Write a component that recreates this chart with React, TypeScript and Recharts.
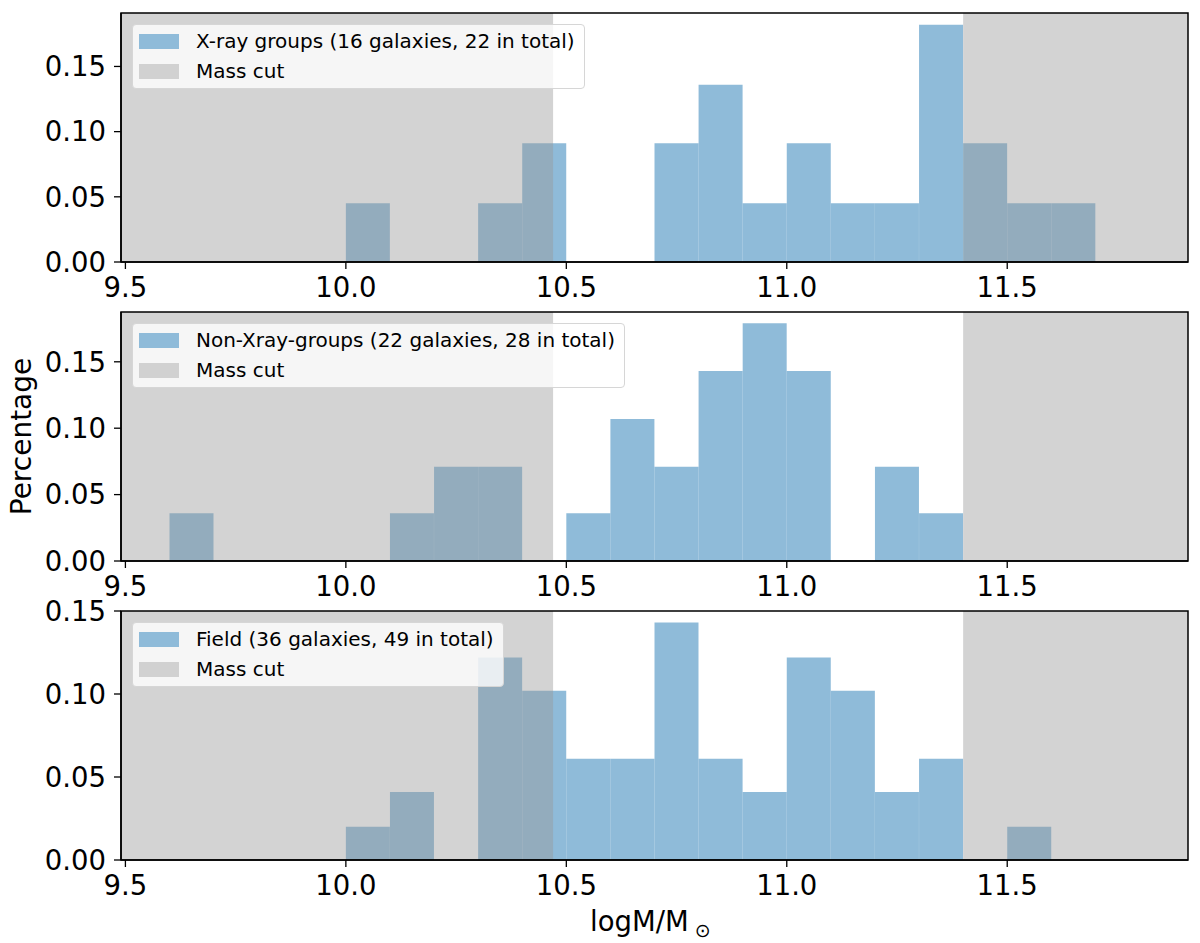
import React from 'react';
import { ComposedChart, Bar, XAxis, YAxis, ReferenceArea } from 'recharts';

// bin centres (bin width 0.1 in logM)
const binCenters = [9.65, 9.75, 9.85, 9.95, 10.05, 10.15, 10.25, 10.35, 10.45, 10.55, 10.65, 10.75, 10.85, 10.95, 11.05, 11.15, 11.25, 11.35, 11.45, 11.55, 11.65];

const xrayValues = [0, 0, 0, 0, 0.045, 0, 0, 0.045, 0.091, 0, 0, 0.091, 0.136, 0.045, 0.091, 0.045, 0.045, 0.182, 0.091, 0.045, 0.045];
const nonXrayValues = [0.036, 0, 0, 0, 0, 0.036, 0.071, 0.071, 0, 0.036, 0.107, 0.071, 0.143, 0.179, 0.143, 0, 0.071, 0.036, 0, 0, 0];
const fieldValues = [0, 0, 0, 0, 0.02, 0.041, 0, 0.122, 0.102, 0.061, 0.061, 0.143, 0.061, 0.041, 0.122, 0.102, 0.041, 0.061, 0, 0.02, 0];

const seriesLabels = [
  'X-ray groups (16 galaxies, 22 in total)',
  'Non-Xray-groups (22 galaxies, 28 in total)',
  'Field (36 galaxies, 49 in total)',
];
const massCutLabel = 'Mass cut';

const yMaxes = [0.191, 0.1875, 0.15];
const yTicks = [0, 0.05, 0.1, 0.15];
const xTicks = [9.5, 10.0, 10.5, 11.0, 11.5];
const xDomain = [9.49, 11.91];
const massCutLow = 10.47;
const massCutHigh = 11.4;

const FONT = 'DejaVu Sans, Verdana, sans-serif';
const PLOT_TOPS = [13, 312, 611];
const PLOT_H = 249;
const MT = 16;
const XAXIS_H = 50;

const tickStyle = { fill: '#000', fontSize: 27.5, fontFamily: FONT };

function Legend({ top, label }: { top: number; label: string }) {
  const row: React.CSSProperties = { display: 'flex', alignItems: 'center', height: 30, whiteSpace: 'nowrap' };
  const patch: React.CSSProperties = { width: 40, height: 15, marginRight: 17, flex: 'none' };
  return (
    <div
      style={{
        position: 'absolute',
        left: 132,
        top,
        padding: '1px 9px 2px 6px',
        border: '1px solid #d6d6d6',
        borderRadius: 4,
        background: 'rgba(255,255,255,0.8)',
        fontFamily: FONT,
        fontSize: 20,
        color: '#000',
        lineHeight: '30px',
      }}
    >
      <div style={row}>
        <div style={{ ...patch, background: '#8fbbd9' }} />
        <span>{label}</span>
      </div>
      <div style={row}>
        <div style={{ ...patch, background: '#d1d1d1' }} />
        <span>{massCutLabel}</span>
      </div>
    </div>
  );
}

function Panel({ values, ymax, plotTop }: { values: number[]; ymax: number; plotTop: number }) {
  const data = binCenters.map((x, i) => ({ x, v: values[i] }));
  return (
    <div style={{ position: 'absolute', left: 0, top: plotTop - MT }}>
      <ComposedChart
        width={1200}
        height={MT + PLOT_H + XAXIS_H}
        data={data}
        margin={{ top: MT, right: 12, bottom: 0, left: 0 }}
        barCategoryGap={0}
        barGap={0}
      >
        <XAxis
          dataKey="x"
          type="number"
          domain={xDomain}
          allowDataOverflow
          ticks={xTicks}
          interval={0}
          tickFormatter={(v: number) => v.toFixed(1)}
          tickSize={7}
          tickMargin={8}
          height={XAXIS_H}
          axisLine={{ stroke: '#000', strokeWidth: 1.5 }}
          tickLine={{ stroke: '#000', strokeWidth: 1.3 }}
          tick={tickStyle}
        />
        <YAxis
          type="number"
          domain={[0, ymax]}
          allowDataOverflow
          ticks={yTicks}
          interval={0}
          tickFormatter={(v: number) => v.toFixed(2)}
          tickSize={7}
          tickMargin={8}
          width={121}
          axisLine={{ stroke: '#000', strokeWidth: 1.5 }}
          tickLine={{ stroke: '#000', strokeWidth: 1.3 }}
          tick={tickStyle}
        />
        <Bar dataKey="v" fill="#1f77b4" fillOpacity={0.5} isAnimationActive={false} />
        <ReferenceArea
          x1={xDomain[0]}
          x2={massCutLow}
          y1={0}
          y2={ymax}
          fill="#989898"
          fillOpacity={0.43}
          stroke="none"
          ifOverflow="visible"
          zIndex={450}
        />
        <ReferenceArea
          x1={massCutHigh}
          x2={xDomain[1]}
          y1={0}
          y2={ymax}
          fill="#989898"
          fillOpacity={0.43}
          stroke="none"
          ifOverflow="visible"
          zIndex={450}
        />
        <ReferenceArea
          x1={xDomain[0]}
          x2={xDomain[1]}
          y1={0}
          y2={ymax}
          fill="none"
          fillOpacity={0}
          stroke="#000"
          strokeWidth={1.5}
          strokeOpacity={1}
          ifOverflow="visible"
          zIndex={460}
        />
      </ComposedChart>
    </div>
  );
}

export default function App() {
  const panels = [xrayValues, nonXrayValues, fieldValues];
  return (
    <div style={{ position: 'absolute', left: 0, top: 0, width: 1200, height: 943, background: '#fff', overflow: 'hidden' }}>
      {panels.map((vals, i) => (
        <Panel key={i} values={vals} ymax={yMaxes[i]} plotTop={PLOT_TOPS[i]} />
      ))}
      {panels.map((_, i) => (
        <Legend key={'l' + i} top={PLOT_TOPS[i] + 11} label={seriesLabels[i]} />
      ))}
      <svg width={1200} height={943} style={{ position: 'absolute', left: 0, top: 0, pointerEvents: 'none' }}>
        <text
          x={0}
          y={0}
          transform="translate(31,436.5) rotate(-90)"
          textAnchor="middle"
          fontFamily={FONT}
          fontSize={28}
          fill="#000"
        >
          Percentage
        </text>
        <text x={590} y={931} fontFamily={FONT} fontSize={27.5} fill="#000">
          logM/M
          <tspan dx={6} dy={6} fontSize={19}>⊙</tspan>
        </text>
      </svg>
    </div>
  );
}
